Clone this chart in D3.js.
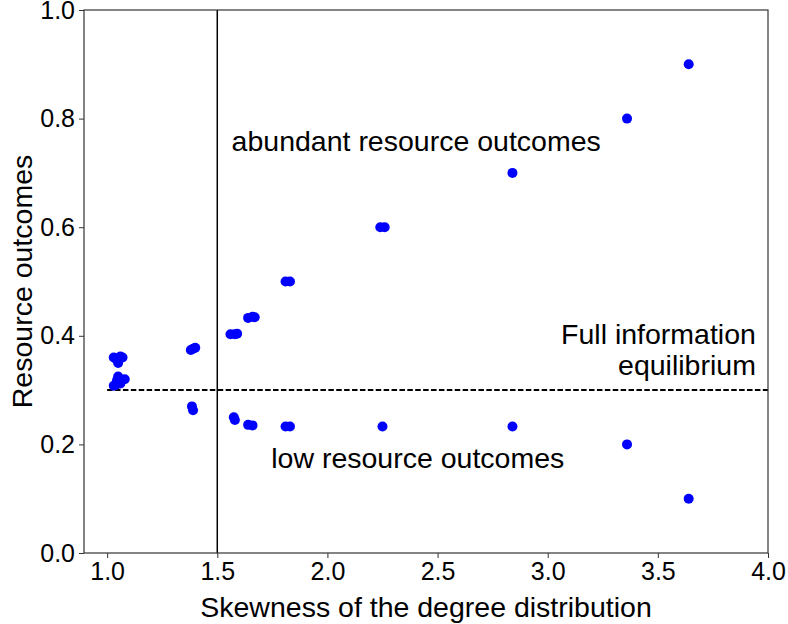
<!DOCTYPE html>
<html>
<head>
<meta charset="utf-8">
<script src="https://cdn.jsdelivr.net/npm/d3@7"></script>
<style>
  body { margin: 0; background: #fff; }
  text { font-family: "Liberation Sans", Arial, Helvetica, sans-serif; }
</style>
</head>
<body>
<svg id="chart" width="788" height="624"></svg>
<script>
// skewness of the degree distribution (x) and resource outcome (y)
const highX = [1.03, 1.05, 1.06, 1.07, 1.05, 1.04, 1.38, 1.39, 1.40, 1.56, 1.58, 1.59, 1.64, 1.66, 1.67, 1.81, 1.83, 2.24, 2.26, 2.84, 3.36, 3.64];
const highY = [0.360, 0.355, 0.362, 0.360, 0.350, 0.358, 0.374, 0.376, 0.378, 0.403, 0.403, 0.404, 0.433, 0.435, 0.434, 0.500, 0.500, 0.600, 0.600, 0.700, 0.800, 0.900];
const lowX = [1.03, 1.04, 1.05, 1.06, 1.08, 1.045, 1.385, 1.39, 1.575, 1.58, 1.64, 1.66, 1.81, 1.83, 2.25, 2.84, 3.36, 3.64];
const lowY = [0.308, 0.310, 0.325, 0.312, 0.320, 0.318, 0.270, 0.263, 0.250, 0.245, 0.236, 0.235, 0.233, 0.233, 0.233, 0.233, 0.200, 0.100];
const xTicks = [1.0, 1.5, 2.0, 2.5, 3.0, 3.5, 4.0];
const yTicks = [0.0, 0.2, 0.4, 0.6, 0.8, 1.0];
const equilibrium = 0.3;
const threshold = 1.5;

const svg = d3.select("#chart");
const margin = { top: 10, right: 20, bottom: 71, left: 84 };
const width = 788 - margin.left - margin.right;
const height = 624 - margin.top - margin.bottom;

const x = d3.scaleLinear().domain([0.895, 4.0]).range([0, width]);
const y = d3.scaleLinear().domain([0, 1]).range([height, 0]);

const g = svg.append("g").attr("transform", `translate(${margin.left},${margin.top})`);

const points = highX.map((v, i) => ({ x: v, y: highY[i] }))
  .concat(lowX.map((v, i) => ({ x: v, y: lowY[i] })));

// reference lines
g.append("line")
  .attr("x1", x(1.0)).attr("x2", x(4.0))
  .attr("y1", y(equilibrium)).attr("y2", y(equilibrium))
  .attr("stroke", "#000").attr("stroke-width", 2)
  .attr("stroke-dasharray", "5.5,2.4");

g.append("line")
  .attr("x1", x(threshold)).attr("x2", x(threshold))
  .attr("y1", y(0)).attr("y2", y(1))
  .attr("stroke", "#000").attr("stroke-width", 1.5);

g.selectAll(".dot")
  .data(points)
  .enter()
  .append("circle")
  .attr("class", "dot")
  .attr("cx", d => x(d.x))
  .attr("cy", d => y(d.y))
  .attr("r", 5)
  .attr("fill", "#0000ff");

// axes
const xAxis = g.append("g")
  .attr("transform", `translate(0,${height})`)
  .call(d3.axisBottom(x).tickValues(xTicks).tickFormat(d3.format(".1f")).tickSize(5).tickPadding(4));
const yAxis = g.append("g")
  .call(d3.axisLeft(y).tickValues(yTicks).tickFormat(d3.format(".1f")).tickSize(5).tickPadding(4));

[xAxis, yAxis].forEach(a => {
  a.select(".domain").remove();
  a.selectAll("line").attr("stroke", "#333").attr("stroke-width", 1);
  a.selectAll("text").attr("font-size", 25).attr("fill", "#000")
    .style("font-family", "'Liberation Sans', Arial, sans-serif");
});

g.append("rect")
  .attr("width", width).attr("height", height)
  .attr("fill", "none").attr("stroke", "#333").attr("stroke-width", 1.2);

// labels
g.append("text")
  .attr("x", width / 2).attr("y", height + 64)
  .attr("text-anchor", "middle").attr("font-size", 28.5)
  .text("Skewness of the degree distribution");

g.append("text")
  .attr("transform", `translate(${-52},${height / 2}) rotate(-90)`)
  .attr("text-anchor", "middle").attr("font-size", 28.5)
  .text("Resource outcomes");

g.append("text")
  .attr("x", x(1.565)).attr("y", y(0.74))
  .attr("font-size", 28.5)
  .text("abundant resource outcomes");

g.append("text")
  .attr("x", x(1.745)).attr("y", y(0.157))
  .attr("font-size", 28.5)
  .text("low resource outcomes");

g.append("text")
  .attr("x", x(3.945)).attr("y", y(0.385))
  .attr("text-anchor", "end").attr("font-size", 28.5)
  .text("Full information");

g.append("text")
  .attr("x", x(3.945)).attr("y", y(0.327))
  .attr("text-anchor", "end").attr("font-size", 28.5)
  .text("equilibrium");
</script>
</body>
</html>
